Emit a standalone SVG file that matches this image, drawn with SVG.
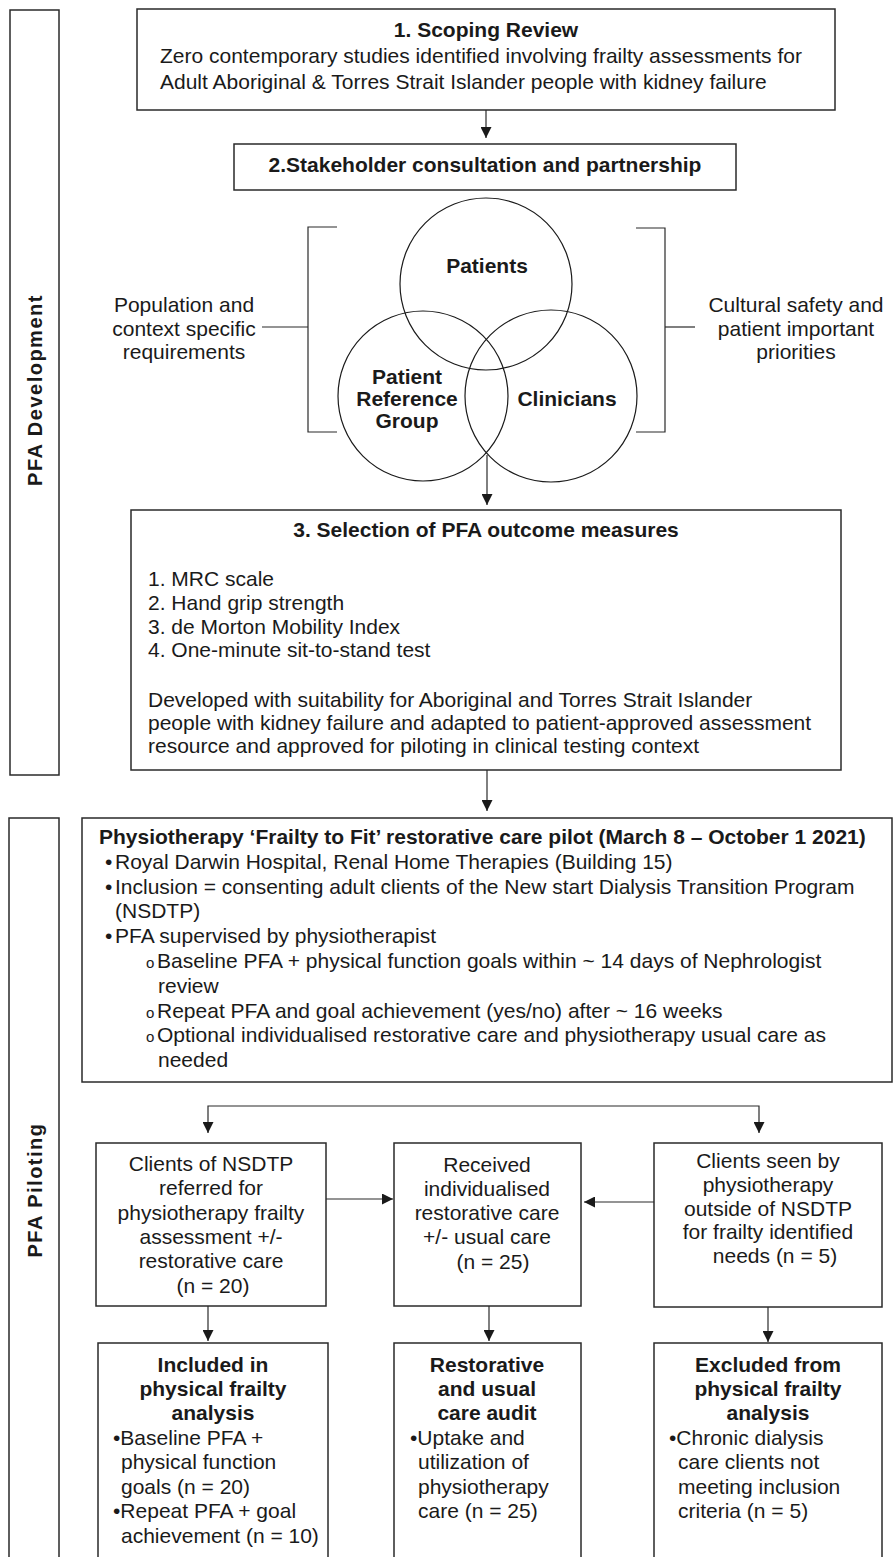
<svg xmlns="http://www.w3.org/2000/svg" width="893" height="1557" viewBox="0 0 893 1557">
<defs>
<marker id="ah" markerUnits="userSpaceOnUse" markerWidth="11" markerHeight="11" refX="11" refY="5.5" orient="auto" viewBox="0 0 11 11"><path d="M0,0 L11,5.5 L0,11 z" fill="#1a1a1a"/></marker>
</defs>
<style>
.box{fill:#fff;stroke:#2a2a2a;stroke-width:1.5}
.ln{fill:none;stroke:#2a2a2a;stroke-width:1.2}
.circ{fill:none;stroke:#1a1a1a;stroke-width:1.2}
.t{font-family:"Liberation Sans",Arial,Helvetica,sans-serif;font-size:21px;fill:#1a1a1a}
.b{font-weight:bold}
.c{text-anchor:middle}
.sb{font-size:15px}
.side{font-family:"Liberation Sans",Arial,Helvetica,sans-serif;font-size:20px;font-weight:bold;letter-spacing:1.5px;fill:#1a1a1a;text-anchor:middle}
</style>
<rect x="0" y="0" width="893" height="1557" fill="#fff"/>

<g id="panel-development">
<rect class="box" x="10" y="10" width="49" height="765"/>
<text class="side" transform="translate(42,390) rotate(-90)">PFA Development</text>
</g>
<g id="panel-piloting">
<rect class="box" x="9" y="818" width="50" height="760"/>
<text class="side" transform="translate(42,1190) rotate(-90)">PFA Piloting</text>
</g>

<g id="connectors">
<path class="ln" d="M486,110 V138" marker-end="url(#ah)"/>
<path class="ln" d="M487,455 V505" marker-end="url(#ah)"/>
<path class="ln" d="M487,770 V811" marker-end="url(#ah)"/>
<path class="ln" d="M337,227 H308 V432 H337"/>
<path class="ln" d="M636,228 H665 V432 H636"/>
<path class="ln" d="M262,327 H308"/>
<path class="ln" d="M665,327 H695"/>
<path class="ln" d="M484,1106 H208 V1133" marker-end="url(#ah)"/>
<path class="ln" d="M484,1106 H759 V1133" marker-end="url(#ah)"/>
<path class="ln" d="M326,1199 H393" marker-end="url(#ah)"/>
<path class="ln" d="M654,1202 H584" marker-end="url(#ah)"/>
<path class="ln" d="M208,1306 V1341" marker-end="url(#ah)"/>
<path class="ln" d="M489,1306 V1341" marker-end="url(#ah)"/>
<path class="ln" d="M768,1307 V1342" marker-end="url(#ah)"/>
</g>

<g id="n1-scoping">
<rect class="box" x="137" y="9" width="698" height="101"/>
<text class="t b c" x="486" y="37">1. Scoping Review</text>
<text class="t" x="160" y="63">Zero contemporary studies identified involving frailty assessments for</text>
<text class="t" x="160" y="89">Adult Aboriginal &amp; Torres Strait Islander people with kidney failure</text>
</g>

<g id="n2-stakeholder">
<rect class="box" x="234" y="144" width="502" height="46"/>
<text class="t b c" x="485" y="172">2.Stakeholder consultation and partnership</text>
</g>

<g id="venn">
<circle class="circ" cx="486" cy="284" r="86"/>
<circle class="circ" cx="423" cy="396" r="85"/>
<circle class="circ" cx="551" cy="396" r="86"/>
<text class="t b c" x="487" y="273">Patients</text>
<text class="t b c" x="407" y="384">Patient</text>
<text class="t b c" x="407" y="406">Reference</text>
<text class="t b c" x="407" y="428">Group</text>
<text class="t b c" x="567" y="406">Clinicians</text>
</g>

<g id="left-note">
<text class="t c" x="184" y="312">Population and</text>
<text class="t c" x="184" y="336">context specific</text>
<text class="t c" x="184" y="359">requirements</text>
</g>
<g id="right-note">
<text class="t c" x="796" y="312">Cultural safety and</text>
<text class="t c" x="796" y="336">patient important</text>
<text class="t c" x="796" y="359">priorities</text>
</g>

<g id="n3-selection">
<rect class="box" x="131" y="510" width="710" height="260"/>
<text class="t b c" x="486" y="537">3. Selection of PFA outcome measures</text>
<text class="t" x="148" y="586">1. MRC scale</text>
<text class="t" x="148" y="610">2. Hand grip strength</text>
<text class="t" x="148" y="634">3. de Morton Mobility Index</text>
<text class="t" x="148" y="657">4. One-minute sit-to-stand test</text>
<text class="t" x="148" y="707">Developed with suitability for Aboriginal and Torres Strait Islander</text>
<text class="t" x="148" y="730">people with kidney failure and adapted to patient-approved assessment</text>
<text class="t" x="148" y="753">resource and approved for piloting in clinical testing context</text>
</g>

<g id="n4-pilot">
<rect class="box" x="82" y="818" width="810" height="264"/>
<text class="t b" x="99" y="844">Physiotherapy ‘Frailty to Fit’ restorative care pilot (March 8 – October 1 2021)</text>
<text class="t" y="869"><tspan x="105">•</tspan><tspan x="115">Royal Darwin Hospital, Renal Home Therapies (Building 15)</tspan></text>
<text class="t" y="894"><tspan x="105">•</tspan><tspan x="115">Inclusion = consenting adult clients of the New start Dialysis Transition Program</tspan></text>
<text class="t" x="115" y="918">(NSDTP)</text>
<text class="t" y="943"><tspan x="105">•</tspan><tspan x="115">PFA supervised by physiotherapist</tspan></text>
<text class="t" y="968"><tspan class="sb" x="146">o</tspan><tspan x="157">Baseline PFA + physical function goals within ~ 14 days of Nephrologist</tspan></text>
<text class="t" x="158" y="993">review</text>
<text class="t" y="1018"><tspan class="sb" x="146">o</tspan><tspan x="157">Repeat PFA and goal achievement (yes/no) after ~ 16 weeks</tspan></text>
<text class="t" y="1042"><tspan class="sb" x="146">o</tspan><tspan x="157">Optional individualised restorative care and physiotherapy usual care as</tspan></text>
<text class="t" x="158" y="1067">needed</text>
</g>

<g id="n5-nsdtp">
<rect class="box" x="96" y="1143" width="230" height="163"/>
<text class="t c" x="211" y="1171">Clients of NSDTP</text>
<text class="t c" x="211" y="1195">referred for</text>
<text class="t c" x="211" y="1220">physiotherapy frailty</text>
<text class="t c" x="211" y="1244">assessment +/-</text>
<text class="t c" x="211" y="1268">restorative care</text>
<text class="t c" x="213" y="1293">(n = 20)</text>
</g>

<g id="n6-received">
<rect class="box" x="394" y="1143" width="187" height="163"/>
<text class="t c" x="487" y="1172">Received</text>
<text class="t c" x="487" y="1196">individualised</text>
<text class="t c" x="487" y="1220">restorative care</text>
<text class="t c" x="487" y="1244">+/- usual care</text>
<text class="t c" x="493" y="1269">(n = 25)</text>
</g>

<g id="n7-outside">
<rect class="box" x="654" y="1143" width="228" height="164"/>
<text class="t c" x="768" y="1168">Clients seen by</text>
<text class="t c" x="768" y="1192">physiotherapy</text>
<text class="t c" x="768" y="1216">outside of NSDTP</text>
<text class="t c" x="768" y="1239">for frailty identified</text>
<text class="t c" x="775" y="1263">needs (n = 5)</text>
</g>

<g id="n8-included">
<rect class="box" x="98" y="1343" width="230" height="240"/>
<text class="t b c" x="213" y="1372">Included in</text>
<text class="t b c" x="213" y="1396">physical frailty</text>
<text class="t b c" x="213" y="1420">analysis</text>
<text class="t" x="113" y="1445">•Baseline PFA +</text>
<text class="t" x="121" y="1469">physical function</text>
<text class="t" x="121" y="1494">goals (n = 20)</text>
<text class="t" x="113" y="1518">•Repeat PFA + goal</text>
<text class="t" x="121" y="1543">achievement (n = 10)</text>
</g>

<g id="n9-audit">
<rect class="box" x="394" y="1343" width="187" height="240"/>
<text class="t b c" x="487" y="1372">Restorative</text>
<text class="t b c" x="487" y="1396">and usual</text>
<text class="t b c" x="487" y="1420">care audit</text>
<text class="t" x="410" y="1445">•Uptake and</text>
<text class="t" x="418" y="1469">utilization of</text>
<text class="t" x="418" y="1494">physiotherapy</text>
<text class="t" x="418" y="1518">care (n = 25)</text>
</g>

<g id="n10-excluded">
<rect class="box" x="654" y="1343" width="228" height="240"/>
<text class="t b c" x="768" y="1372">Excluded from</text>
<text class="t b c" x="768" y="1396">physical frailty</text>
<text class="t b c" x="768" y="1420">analysis</text>
<text class="t" x="669" y="1445">•Chronic dialysis</text>
<text class="t" x="678" y="1469">care clients not</text>
<text class="t" x="678" y="1494">meeting inclusion</text>
<text class="t" x="678" y="1518">criteria (n = 5)</text>
</g>
</svg>
